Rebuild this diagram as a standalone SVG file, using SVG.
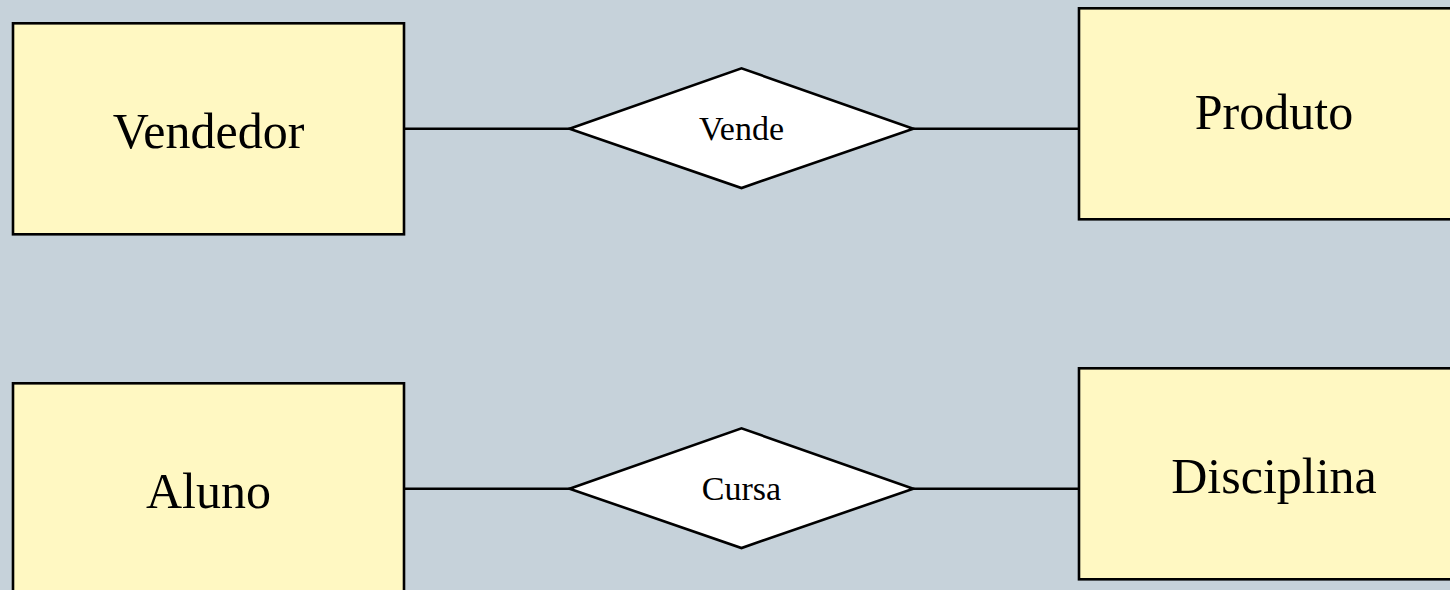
<svg xmlns="http://www.w3.org/2000/svg" width="1450" height="590" viewBox="0 0 1450 590">
<style>
.ent{fill:#fff8c2;stroke:#000;stroke-width:2.6}
.rel{fill:#fff;stroke:#000;stroke-width:2.6}
.con{stroke:#000;stroke-width:2.6;fill:none}
.big{font-family:"Liberation Serif","Times New Roman",serif;font-size:50px;fill:#000;text-anchor:middle}
.small{font-family:"Liberation Serif","Times New Roman",serif;font-size:34px;fill:#000;text-anchor:middle}
</style>
<rect width="1450" height="590" fill="#c6d2da"/>
<g id="connectors">
<line class="con" x1="404" y1="128.7" x2="570" y2="128.7"/>
<line class="con" x1="913" y1="128.7" x2="1079" y2="128.7"/>
<line class="con" x1="404" y1="488.7" x2="570" y2="488.7"/>
<line class="con" x1="913" y1="488.7" x2="1079" y2="488.7"/>
</g>
<g id="vendedor">
<rect class="ent" x="13" y="23.3" width="391" height="211"/>
<text class="big" x="208.5" y="148">Vendedor</text>
</g>
<g id="produto">
<rect class="ent" x="1079" y="8.3" width="391" height="211"/>
<text class="big" x="1274" y="129.3">Produto</text>
</g>
<g id="vende">
<polygon class="rel" points="569.5,128.7 741.5,68.3 913.3,128.7 741.5,188"/>
<text class="small" x="741.5" y="140">Vende</text>
</g>
<g id="aluno">
<rect class="ent" x="13" y="383.3" width="391" height="211"/>
<text class="big" x="208.5" y="507.7">Aluno</text>
</g>
<g id="disciplina">
<rect class="ent" x="1079" y="368.3" width="391" height="211"/>
<text class="big" x="1274" y="492.7">Disciplina</text>
</g>
<g id="cursa">
<polygon class="rel" points="569.5,488.7 741.5,428.3 913.3,488.7 741.5,548"/>
<text class="small" x="741.5" y="500">Cursa</text>
</g>
</svg>
